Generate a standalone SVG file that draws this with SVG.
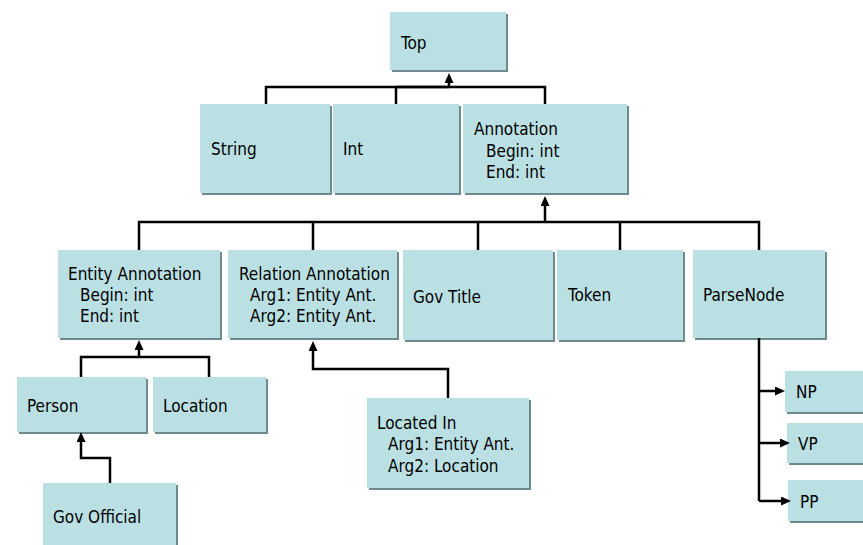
<svg xmlns="http://www.w3.org/2000/svg" width="863" height="545" viewBox="0 0 863 545">
  <defs>
    <marker id="head" markerUnits="userSpaceOnUse" markerWidth="10" markerHeight="10" refX="1" refY="4.5" orient="auto">
      <path d="M0,0 L10,4.5 L0,9 Z" fill="#000"/>
    </marker>
  </defs>
  <style>
    .sh { fill: #6f8a8c; }
    .box { fill: #bbe0e3; }
    .hl { fill: #d3eef0; }
    text { font-family: "DejaVu Sans Condensed", "DejaVu Sans", sans-serif; font-stretch: condensed; font-size: 17px; fill: #000; }
    .ln { fill: none; stroke: #000; stroke-width: 2.5; }
    .ar { marker-end: url(#head); }
  </style>
  <rect width="863" height="545" fill="#fff"/>

  <!-- class boxes -->
  <g id="top">
    <rect class="sh" x="392" y="14" width="116" height="58"/>
    <rect class="box" x="390" y="12" width="116" height="58"/>
    <text x="401" y="49">Top</text>
  </g>
  <g id="string">
    <rect class="sh" x="202" y="106" width="130" height="89"/>
    <rect class="box" x="200" y="104" width="130" height="89"/>
    <text x="211" y="155">String</text>
  </g>
  <g id="int">
    <rect class="sh" x="335" y="106" width="126" height="89"/>
    <rect class="box" x="333" y="104" width="126" height="89"/>
    <text x="343" y="155">Int</text>
  </g>
  <g id="annotation">
    <rect class="sh" x="465" y="106" width="164" height="89"/>
    <rect class="box" x="463" y="104" width="164" height="89"/>
    <text x="474" y="135">Annotation</text>
    <text x="486" y="157">Begin: int</text>
    <text x="486" y="178">End: int</text>
  </g>
  <g id="entity-annotation">
    <rect class="sh" x="60" y="252" width="162" height="88"/>
    <rect class="box" x="58" y="250" width="162" height="88"/>
    <text x="68" y="280">Entity Annotation</text>
    <text x="80" y="301">Begin: int</text>
    <text x="80" y="322">End: int</text>
  </g>
  <g id="relation-annotation">
    <rect class="sh" x="230" y="252" width="169" height="88"/>
    <rect class="box" x="228" y="250" width="169" height="88"/>
    <text x="239" y="280">Relation Annotation</text>
    <text x="250" y="301">Arg1: Entity Ant.</text>
    <text x="250" y="322">Arg2: Entity Ant.</text>
  </g>
  <g id="gov-title">
    <rect class="sh" x="405" y="252" width="150" height="90"/>
    <rect class="box" x="403" y="250" width="150" height="90"/>
    <text x="413" y="303">Gov Title</text>
  </g>
  <g id="token">
    <rect class="sh" x="559" y="252" width="126" height="90"/>
    <rect class="box" x="557" y="250" width="126" height="90"/>
    <text x="568" y="301">Token</text>
  </g>
  <g id="parsenode">
    <rect class="sh" x="695" y="252" width="132" height="88"/>
    <rect class="box" x="693" y="250" width="132" height="88"/>
    <text x="703" y="301">ParseNode</text>
  </g>
  <g id="person">
    <rect class="sh" x="19" y="379" width="129" height="55"/>
    <rect class="box" x="17" y="377" width="129" height="55"/>
    <text x="27" y="412">Person</text>
  </g>
  <g id="location">
    <rect class="sh" x="155" y="379" width="113" height="55"/>
    <rect class="box" x="153" y="377" width="113" height="55"/>
    <text x="163" y="412">Location</text>
  </g>
  <g id="gov-official">
    <rect class="sh" x="45" y="485" width="133" height="62"/>
    <rect class="box" x="43" y="483" width="133" height="62"/>
    <text x="53" y="523">Gov Official</text>
  </g>
  <g id="located-in">
    <rect class="sh" x="369" y="400" width="162" height="90"/>
    <rect class="box" x="367" y="398" width="162" height="90"/>
    <text x="377" y="429">Located In</text>
    <text x="388" y="450">Arg1: Entity Ant.</text>
    <text x="388" y="472">Arg2: Location</text>
  </g>
  <g id="np">
    <rect class="sh" x="787" y="373" width="78" height="41"/>
    <rect class="box" x="785" y="371" width="78" height="41"/>
    <text x="796" y="398">NP</text>
  </g>
  <g id="vp">
    <rect class="sh" x="789" y="425" width="76" height="40"/>
    <rect class="box" x="787" y="423" width="76" height="40"/>
    <text x="798" y="450">VP</text>
  </g>
  <g id="pp">
    <rect class="sh" x="790" y="482" width="75" height="41"/>
    <rect class="box" x="788" y="480" width="75" height="41"/>
    <text x="800" y="508">PP</text>
  </g>

  <!-- inheritance connectors -->
  <g id="connectors">
    <path class="ln" d="M266,104 V87 H545 V104 M396,104 V87"/>
    <path class="ln" d="M396,87 H449" stroke-width="3.5"/>
    <path class="ln ar" d="M449,87 V82"/>

    <path class="ln" d="M139,250 V222 H759 V250 M313,250 V222 M478,250 V222 M620,250 V222"/>
    <path class="ln ar" stroke-width="3" d="M545,222 V205"/>

    <path class="ln" d="M81,377 V357 H209 V377"/>
    <path class="ln ar" stroke-width="3" d="M139,357 V349"/>

    <path class="ln ar" d="M110,483 V458 H81 V441"/>
    <path class="ln ar" stroke-width="3" d="M448,398 V369 H313 V350"/>

    <path class="ln" d="M759,338 V501"/>
    <path class="ln ar" stroke-width="3" d="M759,391 H776"/>
    <path class="ln ar" stroke-width="2" d="M759,443 H781"/>
    <path class="ln ar" stroke-width="2" d="M759,501 H782"/>
  </g>
</svg>
